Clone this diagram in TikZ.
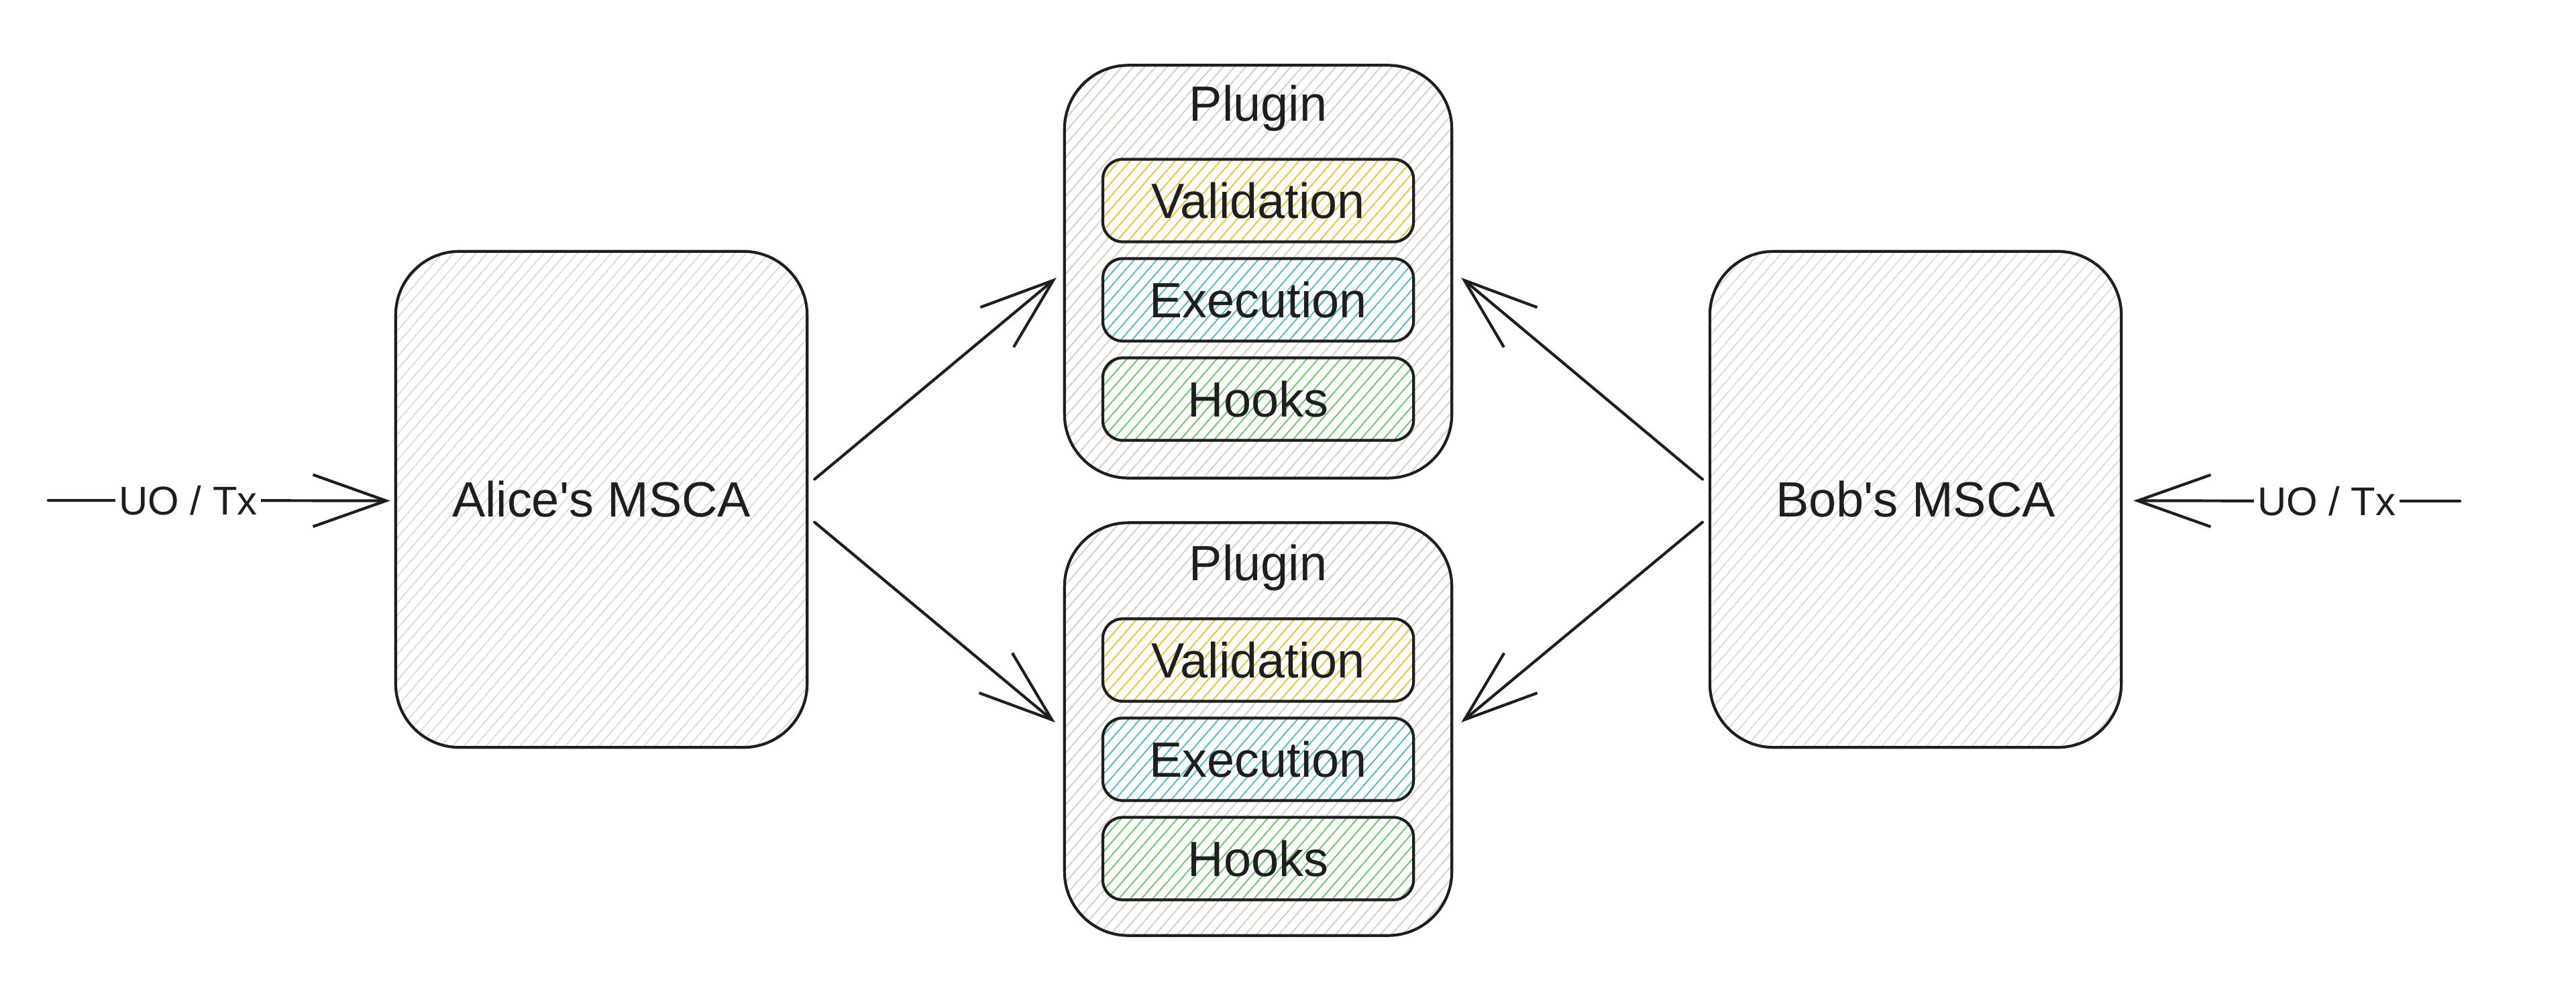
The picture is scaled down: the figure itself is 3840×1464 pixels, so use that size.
\documentclass[tikz,border=0pt]{standalone}
\usepackage{fontspec}
\newfontfamily\lsans{Liberation Sans}
\usetikzlibrary{arrows.meta,patterns.meta}
\definecolor{ink}{HTML}{1E1E1E}
\definecolor{hgray}{RGB}{218,218,218}
\definecolor{hbeige}{RGB}{210,204,194}
\definecolor{hyellow}{RGB}{238,200,50}
\definecolor{hcyan}{RGB}{80,185,210}
\definecolor{hgreen}{RGB}{105,200,105}
\tikzset{
  hatch/.style={pattern={Lines[angle=49,distance=3.6pt,line width=0.5pt]}},
  bigbox/.style={draw=ink, line width=1.2pt, rounded corners=27pt, inner sep=0pt, outer sep=0pt,
    hatch, font=\lsans\fontsize{21}{25}\selectfont, text=ink},
  actor/.style={bigbox, pattern color=hgray, minimum width=6.13cm, minimum height=7.39cm},
  plugbox/.style={bigbox, pattern color=hbeige, minimum width=5.77cm, minimum height=6.15cm},
  partbox/.style={draw=ink, line width=1.2pt, rounded corners=8.5pt, hatch, inner sep=0pt, outer sep=0pt,
    minimum width=4.63cm, minimum height=1.23cm, font=\lsans\fontsize{21}{25}\selectfont, text=ink},
  title/.style={anchor=base, inner sep=0pt, font=\lsans\fontsize{21}{25}\selectfont, text=ink},
  conn/.style={draw=ink, line width=1.2pt, line cap=round, -{Straight Barb[length=31pt,width=22pt]}},
  inlabel/.style={fill=white, inner xsep=1.5pt, inner ysep=1pt, font=\lsans\fontsize{17}{20}\selectfont, text=ink}
}
\begin{document}
\begin{tikzpicture}[x=0.01cm, y=-0.01cm]
\useasboundingbox (0,0) rectangle (3840,1464);

% actors
\node[actor] (alice) at (896.5,744.5) {Alice's MSCA};
\node[actor] (bob) at (2855.5,744.5) {Bob's MSCA};

% plugins
\node[plugbox] (plugA) at (1875.5,405) {};
\node[plugbox] (plugB) at (1875.5,1087) {};
\node[title] (plugAt) at (1875.5,181) {Plugin};
\node[title] (plugBt) at (1875.5,865) {Plugin};

\node[partbox, pattern color=hyellow] (valA) at (1875.5,299) {Validation};
\node[partbox, pattern color=hcyan] (exeA) at (1875.5,447) {Execution};
\node[partbox, pattern color=hgreen] (hookA) at (1875.5,595) {Hooks};

\node[partbox, pattern color=hyellow] (valB) at (1875.5,984) {Validation};
\node[partbox, pattern color=hcyan] (exeB) at (1875.5,1132) {Execution};
\node[partbox, pattern color=hgreen] (hookB) at (1875.5,1280) {Hooks};

% connectors
\draw[conn] ([shift={(11,-30)}]alice.east) -- ([shift={(-12,9)}]plugA.west);
\draw[conn] ([shift={(11,34)}]alice.east) -- ([shift={(-14,-10)}]plugB.west);
\draw[conn] ([shift={(-11,-30)}]bob.west) -- ([shift={(14,9)}]plugA.east);
\draw[conn] ([shift={(-11,34)}]bob.west) -- ([shift={(14,-10)}]plugB.east);

% inputs
\coordinate (inL) at (72,746);
\coordinate (inR) at (3667,747);
\draw[conn] (inL) -- node[inlabel, pos=0.409] (lblL) {UO / Tx} ([shift={(-8,2)}]alice.west);
\draw[conn] (inR) -- node[inlabel, pos=0.408] (lblR) {UO / Tx} ([shift={(18,2)}]bob.east);
\end{tikzpicture}
\end{document}
